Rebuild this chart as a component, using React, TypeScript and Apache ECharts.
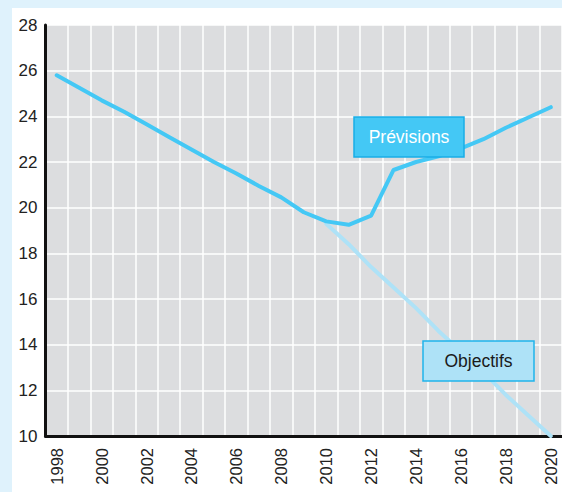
import React, { useEffect, useRef } from "react";
import * as echarts from "echarts";

const years = ["1998","1999","2000","2001","2002","2003","2004","2005","2006","2007","2008","2009","2010","2011","2012","2013","2014","2015","2016","2017","2018","2019","2020"];
const previsions = [25.8, 25.25, 24.7, 24.2, 23.65, 23.1, 22.55, 22.0, 21.5, 20.95, 20.45, 19.8, 19.4, 19.25, 19.65, 21.65, 22.0, 22.25, 22.6, 23.0, 23.5, 23.95, 24.4];
const objectifs = [null, null, null, null, null, null, null, null, null, null, null, null, 19.3, 18.4, 17.4, 16.5, 15.6, 14.6, 13.7, 12.8, 11.8, 10.9, 10.0];
const yTicks = { min: 10, max: 28, interval: 2 };

export default function App() {
  const ref = useRef<HTMLDivElement>(null);
  useEffect(() => {
    if (!ref.current) return;
    const chart = echarts.init(ref.current, null, { renderer: "svg" });
    const font = "'Liberation Sans', Arial, sans-serif";
    chart.setOption({
      animation: false,
      grid: { left: 45.5, top: 25, bottom: 56, right: -7.5, show: true, backgroundColor: "#dcdddf", borderWidth: 0 },
      xAxis: {
        type: "category",
        data: years,
        boundaryGap: true,
        axisLine: { show: true, lineStyle: { color: "#111", width: 3 } },
        axisTick: { show: false },
        axisLabel: { interval: 1, rotate: 90, margin: 12, fontSize: 16.5, color: "#222", fontFamily: font },
        splitLine: { show: true, interval: 0, lineStyle: { color: "#ffffff", width: 1.5 } },
      },
      yAxis: {
        type: "value",
        min: yTicks.min,
        max: yTicks.max,
        interval: yTicks.interval,
        axisLine: { show: true, lineStyle: { color: "#111", width: 3 } },
        axisTick: { show: false },
        axisLabel: { margin: 8, fontSize: 17, color: "#222", fontFamily: font },
        splitLine: { show: true, lineStyle: { color: "#ffffff", width: 1.5 } },
      },
      series: [
        {
          name: "Objectifs",
          type: "line",
          data: objectifs,
          symbol: "none",
          connectNulls: false,
          lineStyle: { color: "#aee2f7", width: 4, cap: "round", join: "round" },
          z: 2,
        },
        {
          name: "Prévisions",
          type: "line",
          data: previsions,
          symbol: "none",
          lineStyle: { color: "#44c8f5", width: 4, cap: "round", join: "round" },
          z: 3,
        },
      ],
      graphic: {
        elements: [
          { type: "rect", z: 100, shape: { x: 354, y: 117, width: 110, height: 40 }, style: { fill: "#44c8f5", stroke: "#18ade6", lineWidth: 1.5 } },
          { type: "text", z: 101, x: 409, y: 137, style: { text: "Prévisions", fill: "#ffffff", font: `17.5px ${font}`, align: "center", verticalAlign: "middle" } },
          { type: "rect", z: 100, shape: { x: 423, y: 341, width: 111, height: 40 }, style: { fill: "#aee2f7", stroke: "#1fb4ec", lineWidth: 1.5 } },
          { type: "text", z: 101, x: 478.5, y: 361, style: { text: "Objectifs", fill: "#1a1a1a", font: `17.5px ${font}`, align: "center", verticalAlign: "middle" } },
        ],
      },
    });
    return () => chart.dispose();
  }, []);
  return (
    <div style={{ position: "fixed", left: 0, top: 0, width: 562, height: 492, background: "#dff2fc", overflow: "hidden" }}>
      <div style={{ position: "absolute", left: 12, top: 8, width: 550, height: 484, background: "#ffffff" }} />
      <div ref={ref} style={{ position: "absolute", left: 0, top: 0, width: 562, height: 492 }} />
    </div>
  );
}
